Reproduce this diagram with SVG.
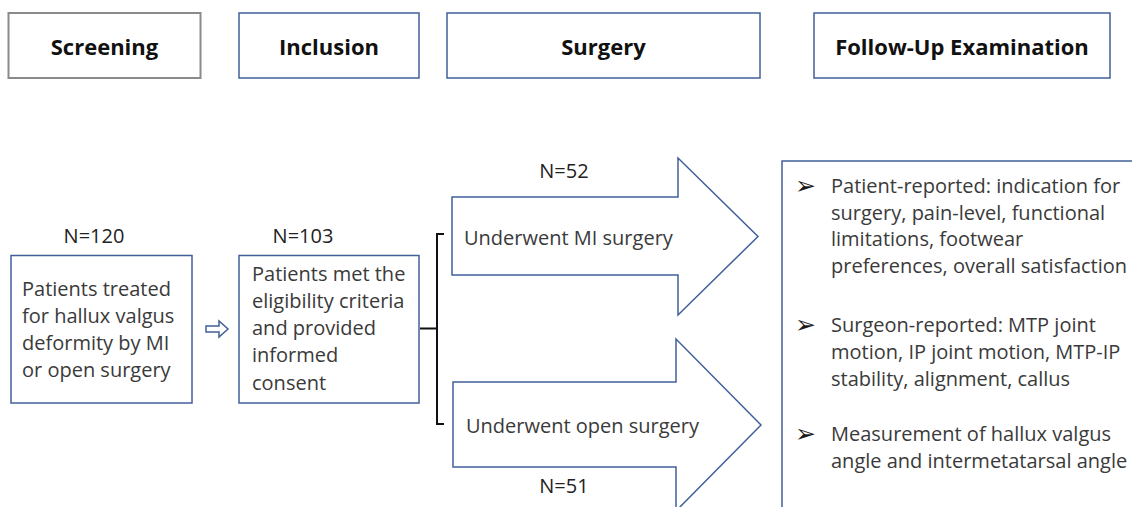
<svg xmlns="http://www.w3.org/2000/svg" width="1132" height="507" viewBox="0 0 1132 507">
<style>
.box{fill:#ffffff;stroke:#41609a;stroke-width:1.5}
.gbox{fill:#ffffff;stroke:#8a8a8a;stroke-width:2}
.hdr{font-family:"Open Sans","Liberation Sans",sans-serif;font-weight:bold;font-size:22px;fill:#111111;text-anchor:middle}
.t{font-family:"Open Sans","Liberation Sans",sans-serif;font-size:20px;fill:#3a3a3a}
.n{font-family:"Open Sans","Liberation Sans",sans-serif;font-size:20px;fill:#222222;text-anchor:middle}
.b{font-family:"DejaVu Sans",sans-serif;font-size:25px;fill:#1a1a1a}
.br{fill:none;stroke:#111111;stroke-width:2}
</style>
<rect width="1132" height="507" fill="#ffffff"/>
<g id="screening-header"><rect class="gbox" x="8.5" y="13" width="192" height="65"/><text class="hdr" x="104.5" y="54.5">Screening</text></g>
<g id="inclusion-header"><rect class="box" x="239" y="13" width="180" height="65"/><text class="hdr" x="329" y="54.5">Inclusion</text></g>
<g id="surgery-header"><rect class="box" x="447" y="13" width="313" height="65"/><text class="hdr" x="603.5" y="54.5">Surgery</text></g>
<g id="followup-header"><rect class="box" x="814" y="13" width="296" height="65"/><text class="hdr" x="962" y="54.5">Follow-Up Examination</text></g>

<g id="screening-node">
<text class="n" x="94" y="243">N=120</text>
<rect class="box" x="11" y="255.5" width="181" height="147.5"/>
<text class="t" x="22" y="296">Patients treated</text>
<text class="t" x="22" y="323">for hallux valgus</text>
<text class="t" x="22" y="350">deformity by MI</text>
<text class="t" x="22" y="377">or open surgery</text>
</g>
<g id="inclusion-node">
<text class="n" x="303" y="243">N=103</text>
<rect class="box" x="239" y="255.5" width="180" height="147.5"/>
<text class="t" x="252" y="281">Patients met the</text>
<text class="t" x="252" y="308">eligibility criteria</text>
<text class="t" x="252" y="335">and provided</text>
<text class="t" x="252" y="362">informed</text>
<text class="t" x="252" y="390">consent</text>
</g>
<g id="mi-surgery">
<text class="n" x="564" y="178">N=52</text>
<polygon class="box" points="452,197 678,197 678,158 758,236.5 678,315 678,275 452,275"/>
<text class="t" x="464" y="245">Underwent MI surgery</text>
</g>
<g id="open-surgery">
<polygon class="box" points="453,382 676,382 676,339 761,425 676,511 676,467 453,467"/>
<text class="t" x="466" y="433">Underwent open surgery</text>
<text class="n" x="564" y="493">N=51</text>
</g>
<g id="followup-node">
<rect class="box" x="782" y="161" width="400" height="400"/>
<text class="b" x="795" y="194">➢</text>
<text class="t" x="831" y="193">Patient-reported: indication for</text>
<text class="t" x="831" y="220">surgery, pain-level, functional</text>
<text class="t" x="831" y="246">limitations, footwear</text>
<text class="t" x="831" y="273">preferences, overall satisfaction</text>
<text class="b" x="795" y="333">➢</text>
<text class="t" x="831" y="332">Surgeon-reported: MTP joint</text>
<text class="t" x="831" y="359">motion, IP joint motion, MTP-IP</text>
<text class="t" x="831" y="386">stability, alignment, callus</text>
<text class="b" x="795" y="442">➢</text>
<text class="t" x="831" y="441">Measurement of hallux valgus</text>
<text class="t" x="831" y="468">angle and intermetatarsal angle</text>
</g>
<g id="connectors">
<polygon class="box" points="206,326 219,326 219,321 228,329 219,337 219,332 206,332"/>
<path class="br" d="M420,328.5 H437 M444,234 H437 V424 H444"/>
</g>
</svg>
